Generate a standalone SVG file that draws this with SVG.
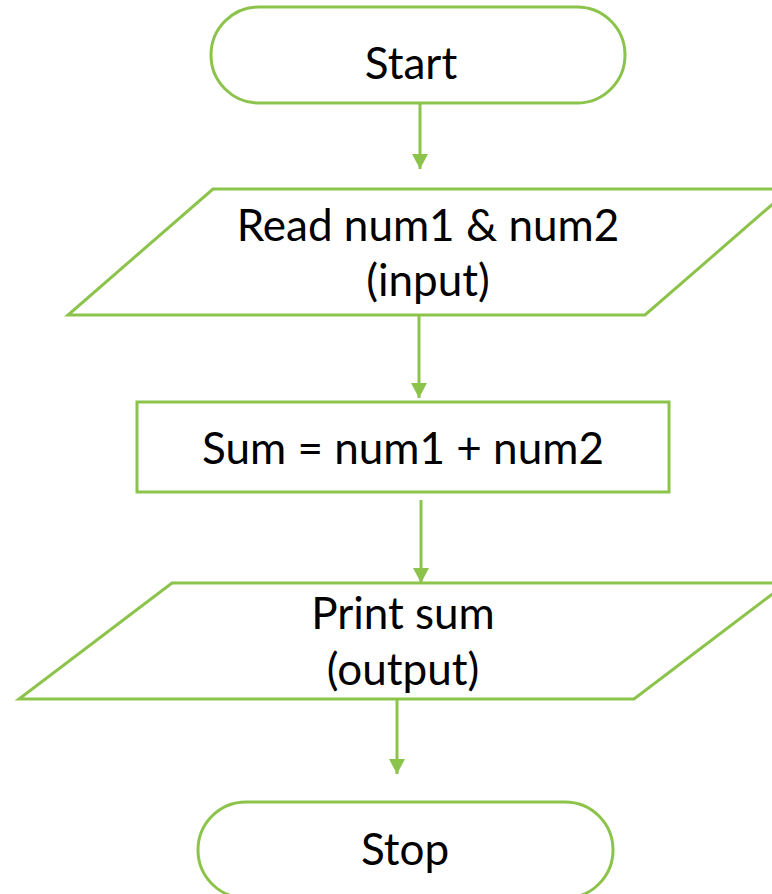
<svg xmlns="http://www.w3.org/2000/svg" width="772" height="894" viewBox="0 0 772 894">
<style>
.shape{fill:#ffffff;stroke:#8cc34b;stroke-width:3}
.conn{stroke:#8cc34b;stroke-width:3;fill:none}
.lbl{font-family:Lato,"Liberation Sans",sans-serif;font-size:44px;fill:#000000;text-anchor:middle}
</style>
<defs>
<marker id="arrow" markerUnits="userSpaceOnUse" markerWidth="16" markerHeight="16" refX="15" refY="8" orient="auto">
<path d="M0,0 L15,8 L0,16 Z" fill="#8cc34b"/>
</marker>
</defs>
<rect width="772" height="894" fill="#ffffff"/>
<g id="connectors">
<line class="conn" x1="420" y1="103" x2="420" y2="169" marker-end="url(#arrow)"/>
<line class="conn" x1="419" y1="315" x2="419" y2="398" marker-end="url(#arrow)"/>
<line class="conn" x1="421" y1="500" x2="421" y2="583" marker-end="url(#arrow)"/>
<line class="conn" x1="397" y1="699" x2="397" y2="774" marker-end="url(#arrow)"/>
</g>
<g id="start">
<rect class="shape" x="211" y="7" width="414" height="96" rx="48" ry="48"/>
<text class="lbl" x="411" y="79">Start</text>
</g>
<g id="input">
<polygon class="shape" points="213,189 790,189 645,315 68,315"/>
<text class="lbl" x="428" y="241">Read num1 &amp; num2</text>
<text class="lbl" x="428" y="296">(input)</text>
</g>
<g id="process">
<rect class="shape" x="137" y="402" width="532" height="90"/>
<text class="lbl" x="403" y="464">Sum = num1 + num2</text>
</g>
<g id="output">
<polygon class="shape" points="172,583 787,583 634,699 19,699"/>
<text class="lbl" x="403" y="629">Print sum</text>
<text class="lbl" x="403" y="685">(output)</text>
</g>
<g id="stop">
<rect class="shape" x="198" y="802" width="415" height="96" rx="48" ry="48"/>
<text class="lbl" x="405" y="865">Stop</text>
</g>
</svg>
